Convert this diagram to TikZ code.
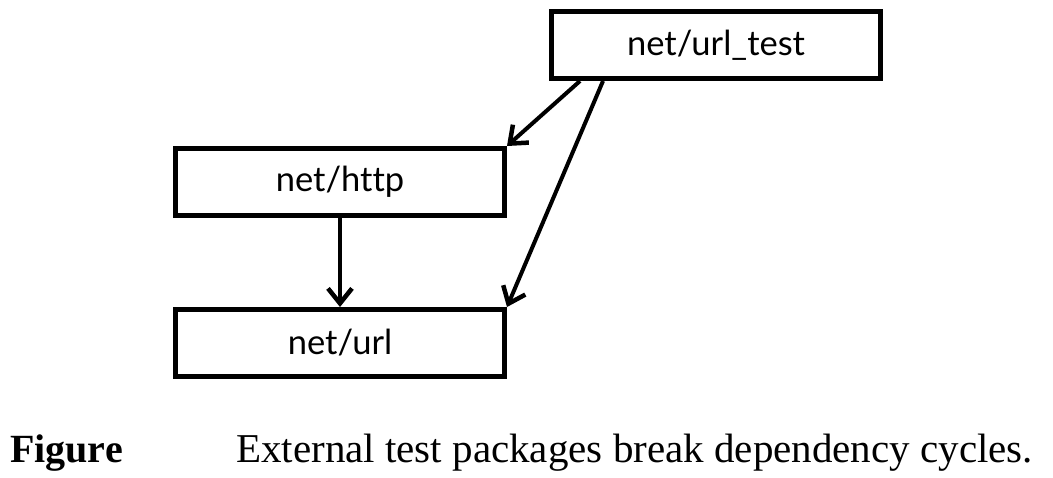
\documentclass[tikz,border=0pt]{standalone}
\usepackage{fontspec}
\setmainfont{Liberation Serif}
\newfontfamily\boxfont[Ligatures=NoCommon]{Lato}
\usetikzlibrary{arrows.meta,calc}
\begin{document}
\begin{tikzpicture}[x=1pt,y=1pt,
  pkg/.style={draw,line width=5pt,minimum width=329pt,minimum height=67pt,inner sep=0pt,font=\boxfont\fontsize{34.5}{40}\selectfont},
  dep/.style={line width=4pt,-{Straight Barb[length=15pt,width=24pt,line width=4.5pt]}},
  captext/.style={anchor=base west,inner sep=0pt,font=\fontsize{41}{46}\selectfont}]
\useasboundingbox (0,0) rectangle (1053,-477);
\node[pkg] (ut) at (716,-45) {net/url\_test};
\node[pkg] (http) at (340,-182) {net/http};
\node[pkg] (url) at (340,-343) {net/url};
\draw[dep] ($(ut.south west)+(31,0)$) -- (http.north east);
\draw[dep] ($(ut.south west)+(54,0)$) -- (url.north east);
\draw[dep] (http.south) -- (url.north);
\node[captext,font=\bfseries\fontsize{40}{46}\selectfont] (fig) at (10,-462) {Figure};
\node[captext] (txt) at (236,-462) {External test packages break dependency cycles.};
\end{tikzpicture}
\end{document}
